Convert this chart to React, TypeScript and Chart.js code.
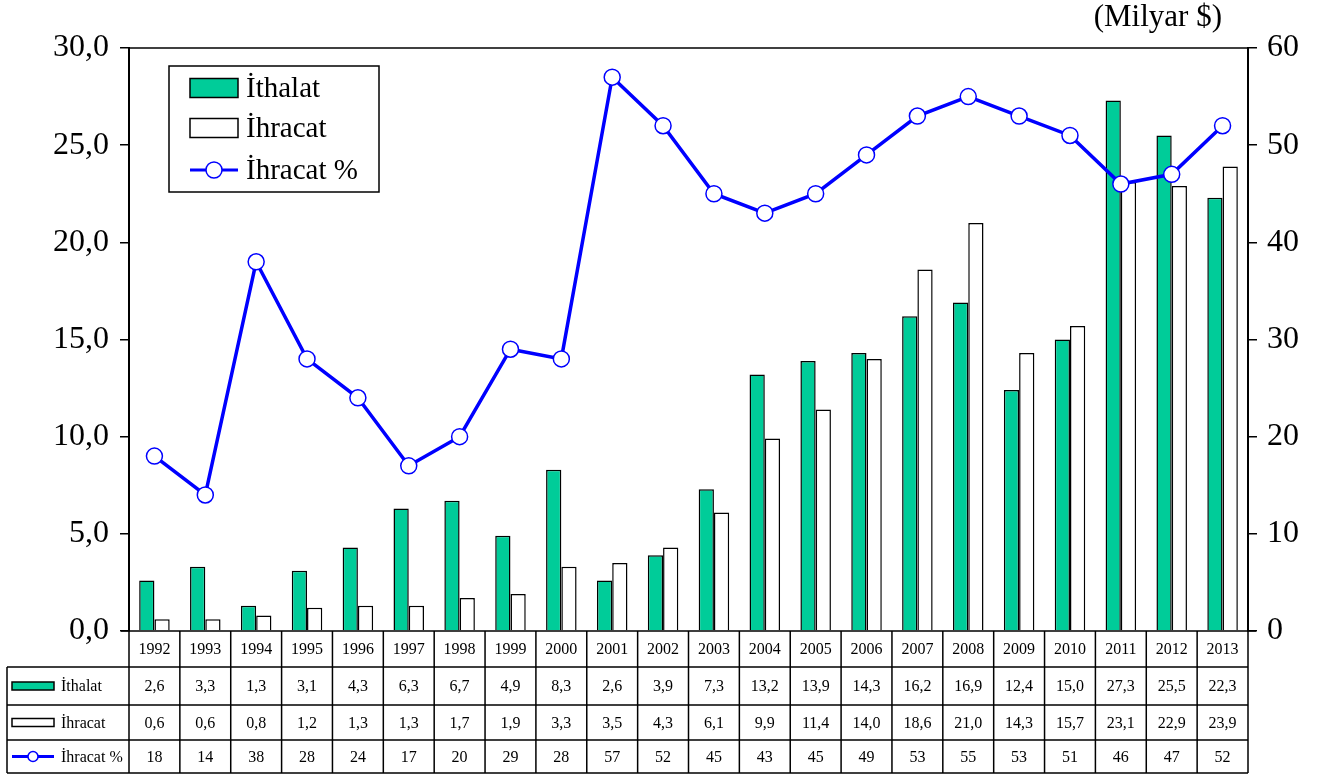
import React, { useEffect, useRef } from "react";
import { Chart, registerables } from "chart.js";

Chart.register(...registerables);

const years = ["1992","1993","1994","1995","1996","1997","1998","1999","2000","2001","2002","2003","2004","2005","2006","2007","2008","2009","2010","2011","2012","2013"];
const ithalat = [2.6,3.3,1.3,3.1,4.3,6.3,6.7,4.9,8.3,2.6,3.9,7.3,13.2,13.9,14.3,16.2,16.9,12.4,15.0,27.3,25.5,22.3];
const ihracat = [0.6,0.6,0.8,1.2,1.3,1.3,1.7,1.9,3.3,3.5,4.3,6.1,9.9,11.4,14.0,18.6,21.0,14.3,15.7,23.1,22.9,23.9];
const ihracatPct = [18,14,38,28,24,17,20,29,28,57,52,45,43,45,49,53,55,53,51,46,47,52];
const seriesNames = ["İthalat", "İhracat", "İhracat %"];
const unitTitle = "(Milyar $)";

const GREEN = "#00CC99";
const BLUE = "#0000FF";
const FONT = '"Liberation Serif", "Times New Roman", serif';

const fmt1 = (v: number) => v.toFixed(1).replace(".", ",");

function drawSwatch(ctx: CanvasRenderingContext2D, kind: number, x: number, y: number, w: number, h: number, r: number) {
  ctx.save();
  if (kind === 0 || kind === 1) {
    ctx.fillStyle = kind === 0 ? GREEN : "#ffffff";
    ctx.fillRect(x, y - h / 2, w, h);
    ctx.strokeStyle = "#000";
    ctx.lineWidth = 1.5;
    ctx.strokeRect(x, y - h / 2, w, h);
  } else {
    ctx.strokeStyle = BLUE;
    ctx.lineWidth = 3;
    ctx.beginPath();
    ctx.moveTo(x, y);
    ctx.lineTo(x + w, y);
    ctx.stroke();
    ctx.beginPath();
    ctx.arc(x + w / 2, y, r, 0, Math.PI * 2);
    ctx.fillStyle = "#fff";
    ctx.fill();
    ctx.lineWidth = 1.5;
    ctx.stroke();
  }
  ctx.restore();
}

const decorPlugin = {
  id: "decor",
  afterDraw(chart: any) {
    const ctx: CanvasRenderingContext2D = chart.ctx;
    const ca = chart.chartArea;
    const n = years.length;
    const cw = (ca.right - ca.left) / n;
    ctx.save();
    // top border
    ctx.strokeStyle = "#000";
    ctx.lineWidth = 1.5;
    ctx.beginPath();
    ctx.moveTo(ca.left, ca.top);
    ctx.lineTo(ca.right, ca.top);
    ctx.stroke();

    // table
    const r0 = ca.bottom, r1 = ca.bottom + 36, r2 = ca.bottom + 74, r3 = ca.bottom + 109, r4 = ca.bottom + 142;
    const tableLeft = 7;
    ctx.lineWidth = 1.5;
    ctx.beginPath();
    ctx.moveTo(ca.left - 8, r0); ctx.lineTo(ca.right + 8, r0);
    for (const ry of [r1, r2, r3, r4]) {
      ctx.moveTo(tableLeft, ry); ctx.lineTo(ca.right, ry);
    }
    for (let i = 0; i <= n; i++) {
      const bx = ca.left + i * cw;
      ctx.moveTo(bx, r0); ctx.lineTo(bx, r4);
    }
    ctx.moveTo(tableLeft, r1); ctx.lineTo(tableLeft, r4);
    ctx.stroke();

    ctx.fillStyle = "#000";
    ctx.font = `16px ${FONT}`;
    ctx.textAlign = "center";
    ctx.textBaseline = "middle";
    const rowsData = [ithalat.map(fmt1), ihracat.map(fmt1), ihracatPct.map(String)];
    const rowMid = [(r1 + r2) / 2, (r2 + r3) / 2, (r3 + r4) / 2];
    for (let i = 0; i < n; i++) {
      const cx = chart.scales.x.getPixelForValue(i);
      ctx.fillText(years[i], cx, (r0 + r1) / 2 + 1);
      for (let k = 0; k < 3; k++) ctx.fillText(rowsData[k][i], cx, rowMid[k] + 1);
    }
    ctx.textAlign = "left";
    for (let k = 0; k < 3; k++) {
      drawSwatch(ctx, k, 12, rowMid[k], 42, 8, 5);
      ctx.fillStyle = "#000";
      ctx.fillText(seriesNames[k], 61, rowMid[k] + 1);
    }

    // legend box
    ctx.lineWidth = 1.5;
    ctx.strokeStyle = "#000";
    ctx.fillStyle = "#fff";
    ctx.fillRect(169, 66, 210, 126);
    ctx.strokeRect(169, 66, 210, 126);
    const ly = [88, 128, 170];
    ctx.font = `29px ${FONT}`;
    for (let k = 0; k < 3; k++) {
      drawSwatch(ctx, k, 190, ly[k], 48, 19, 8);
      ctx.fillStyle = "#000";
      ctx.textBaseline = "middle";
      ctx.fillText(seriesNames[k], 246, ly[k] + 1);
    }

    // unit title
    ctx.textAlign = "right";
    ctx.font = `31px ${FONT}`;
    ctx.fillText(unitTitle, 1222, 18);
    ctx.restore();
  },
};

export default function App() {
  const ref = useRef<HTMLCanvasElement | null>(null);
  useEffect(() => {
    document.body.style.margin = "0";
    const canvas = ref.current!;
    const chart = new Chart(canvas, {
      type: "bar",
      data: {
        labels: years,
        datasets: [
          {
            type: "line",
            label: seriesNames[2],
            data: ihracatPct,
            yAxisID: "y2",
            borderColor: BLUE,
            borderWidth: 3.5,
            pointRadius: 8,
            pointBackgroundColor: "#fff",
            pointBorderColor: BLUE,
            pointBorderWidth: 1.5,
            tension: 0,
            order: 0,
          } as any,
          {
            label: seriesNames[0],
            data: ithalat,
            backgroundColor: GREEN,
            borderColor: "#000",
            borderWidth: 1.5,
            yAxisID: "y",
            categoryPercentage: 0.6,
            barPercentage: 1,
            order: 1,
          },
          {
            label: seriesNames[1],
            data: ihracat,
            backgroundColor: "#fff",
            borderColor: "#000",
            borderWidth: 1.5,
            yAxisID: "y",
            categoryPercentage: 0.6,
            barPercentage: 1,
            order: 1,
          },
        ],
      },
      options: {
        responsive: false,
        devicePixelRatio: 1,
        animation: false,
        layout: { padding: { top: 48, bottom: 147, left: 0, right: 0 } },
        plugins: { legend: { display: false }, tooltip: { enabled: false } },
        scales: {
          x: { display: false, offset: true },
          y: {
            position: "left",
            min: 0,
            max: 30,
            ticks: {
              stepSize: 5,
              callback: (v: any) => fmt1(Number(v)),
              font: { family: FONT, size: 32 },
              color: "#000",
              padding: 11,
            },
            grid: { drawOnChartArea: false, tickLength: 9, color: "#000", lineWidth: 1.5 },
            border: { color: "#000", width: 2 },
            afterFit: (s: any) => { s.width = 129; },
          },
          y2: {
            position: "right",
            min: 0,
            max: 60,
            ticks: {
              stepSize: 10,
              font: { family: FONT, size: 32 },
              color: "#000",
              padding: 10,
            },
            grid: { drawOnChartArea: false, tickLength: 9, color: "#000", lineWidth: 1.5 },
            border: { color: "#000", width: 2 },
            afterFit: (s: any) => { s.width = 73; },
          },
        },
      },
      plugins: [decorPlugin],
    });
    return () => chart.destroy();
  }, []);
  return <canvas ref={ref} width={1321} height={778} style={{ display: "block" }} />;
}
